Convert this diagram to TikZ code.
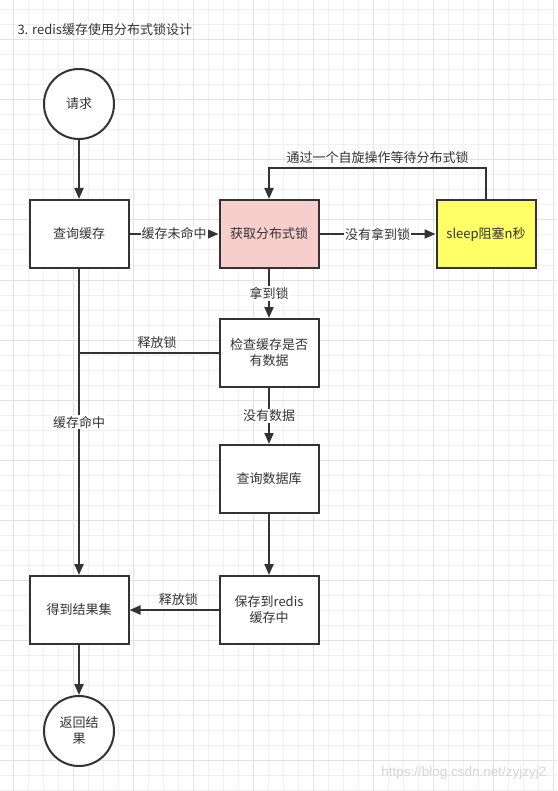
\documentclass[tikz,border=0pt]{standalone}
\usepackage{fontspec}
\setmainfont{Noto Sans CJK SC}
\newfontfamily\markfont{Liberation Sans}
\usetikzlibrary{arrows.meta}

\definecolor{lockred}{HTML}{F8CECC}
\definecolor{sleepyellow}{HTML}{FFFF66}
\definecolor{gridminor}{HTML}{F1F1F1}
\definecolor{gridmajor}{HTML}{E2E2E2}
\definecolor{inkgray}{HTML}{333333}

\begin{document}
\begin{tikzpicture}[
    x=1pt,
    y=-1pt,
    font=\fontsize{13}{16}\selectfont,
    block/.style={
        rectangle,
        draw=inkgray,
        fill=white,
        line width=2pt,
        minimum width=99pt,
        minimum height=68pt,
        align=center,
        inner sep=2pt,
        text=inkgray
    },
    lockblock/.style={
        block,
        fill=lockred
    },
    sleepblock/.style={
        block,
        fill=sleepyellow
    },
    terminal/.style={
        circle,
        draw=inkgray,
        fill=white,
        line width=2pt,
        minimum size=70pt,
        inner sep=0pt,
        align=center,
        text=inkgray
    },
    arrow/.style={
        -{Triangle[length=11pt,width=9pt]},
        line width=2pt,
        draw=inkgray
    },
    plain/.style={
        line width=2pt,
        draw=inkgray
    },
    onlabel/.style={
        fill=white,
        inner sep=1pt,
        text=inkgray
    },
    uplabel/.style={
        above,
        inner sep=3pt,
        text=inkgray
    }
]

\useasboundingbox (0,0) rectangle (557,791);

% --- Grid paper ---
\foreach \x in {-2,13,...,557} \draw[gridminor, line width=1pt] (\x,0) -- (\x,791);
\foreach \y in {10,25,...,790} \draw[gridminor, line width=1pt] (0,\y) -- (557,\y);
\foreach \x in {13,73,...,553} \draw[gridmajor, line width=1pt] (\x,0) -- (\x,791);
\foreach \y in {40,100,...,760} \draw[gridmajor, line width=1pt] (0,\y) -- (557,\y);

% --- Title ---
\node[anchor=west, text=inkgray] (title) at (14,30) {3. redis缓存使用分布式锁设计};

% --- Main flow ---
\node[terminal] (req) at (79,104) {请求};
\node[block] (qcache) at (79,234) {查询缓存};
\node[lockblock] (getlock) at (269,234) {获取分布式锁};
\node[sleepblock] (sleep) at (486,234) {sleep阻塞n秒};
\node[block] (check) at (269,353) {检查缓存是否\\有数据};
\node[block] (qdb) at (269,479) {查询数据库};
\node[block] (save) at (269,610) {保存到redis\\缓存中};
\node[block] (result) at (79,610) {得到结果集};
\node[terminal] (ret) at (79,731) {返回结\\果};

\coordinate (spin) at (486,168);
\coordinate (join) at (qcache.south |- check.west);

\draw[arrow] (req) -- (qcache);
\draw[arrow] (qcache) -- node[onlabel] {缓存未命中} (getlock);
\draw[arrow] (getlock) -- node[onlabel] {没有拿到锁} (sleep);
\draw[arrow] (sleep.north) -- (spin) -| node[uplabel, pos=0.25] {通过一个自旋操作等待分布式锁} (getlock.north);
\draw[arrow] (getlock) -- node[onlabel] {拿到锁} (check);
\draw[plain] (check.west) -- node[uplabel, pos=0.44] {释放锁} (join);
\draw[arrow] (check) -- node[onlabel] {没有数据} (qdb);
\draw[arrow] (qdb) -- (save);
\draw[arrow] (save) -- node[uplabel, pos=0.45] {释放锁} (result);
\draw[arrow] (qcache) -- node[onlabel] {缓存命中} (result);
\draw[arrow] (result) -- (ret);

% --- Watermark ---
\node[anchor=east, text=black!17, font=\markfont\fontsize{13.5}{16}\selectfont] (mark) at (550,773) {https://blog.csdn.net/zyjzyj2};

\end{tikzpicture}
\end{document}
